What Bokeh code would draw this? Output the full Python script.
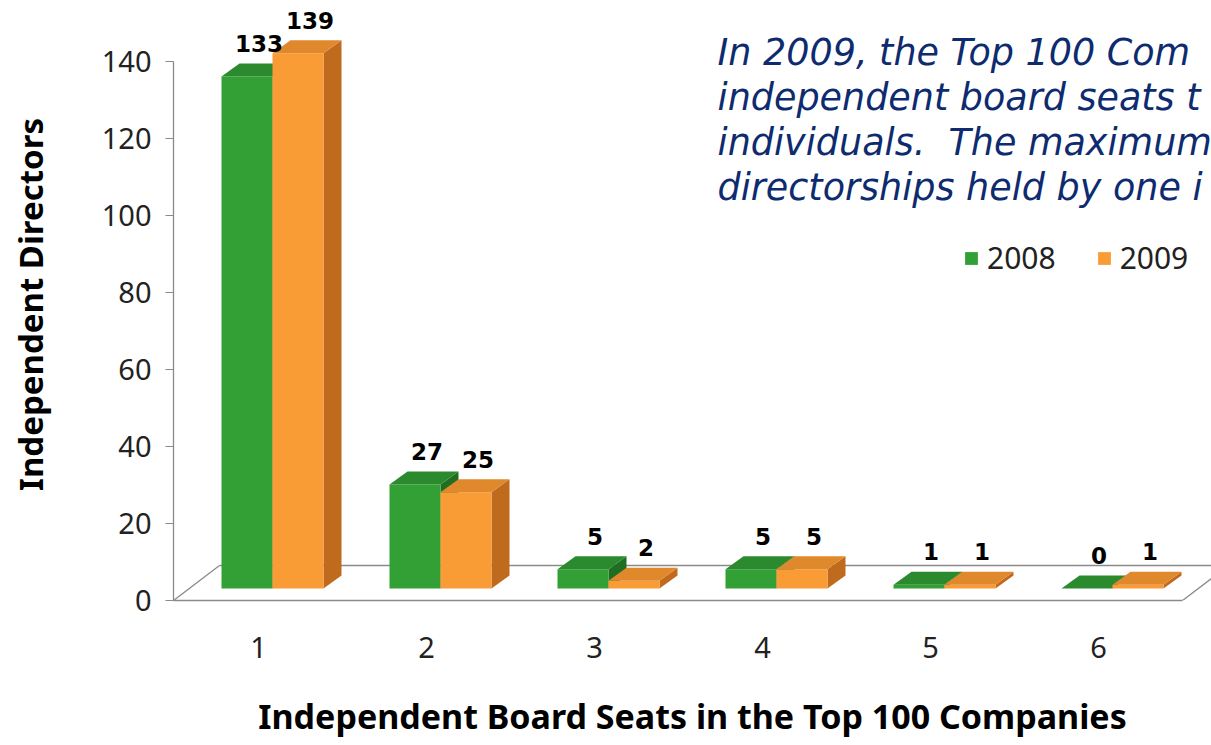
from bokeh.plotting import figure
from bokeh.models import Range1d, FixedTicker, Label, Legend, LegendItem
from bokeh.core.properties import value
from bokeh.embed import file_html
from bokeh.resources import INLINE

# ---- data ----
categories = ["1", "2", "3", "4", "5", "6"]
series_names = ["2008", "2009"]
vals_2008 = [133, 27, 5, 5, 1, 0]
vals_2009 = [139, 25, 2, 5, 1, 1]
y_ticks = [0, 20, 40, 60, 80, 100, 120, 140]
note_lines = [
    "In 2009, the Top 100 Com",
    "independent board seats t",
    "individuals.\u00a0 The maximum",
    "directorships held by one i",
]

# ---- geometry (page pixels -> data) ----
SY = 539 / 140.0      # px per y unit
SX = 168.0            # px per category
def xd(px):
    return 1 + (px - 258) / SX
def yd(py):
    return (600 - py) / SY

W = 51 / SX          # bar width
SHIFT = 14 / SX      # depth shift of bar fronts (x)
BASE = 12 / SY       # depth shift of bar fronts (y)
DDX = 18 / SX        # bar depth x
DDY = 13 / SY        # bar depth y
FDX = 46 / SX        # floor depth x
FDY = 35 / SY        # floor depth y

p = figure(width=1211, height=745, output_backend="svg", toolbar_location=None,
           x_range=Range1d(xd(173), xd(1211)), y_range=Range1d(0, yd(8)),
           min_border_left=173, min_border_right=0, min_border_top=8,
           min_border_bottom=145)
p.outline_line_color = None
p.xgrid.visible = False
p.ygrid.visible = False
p.background_fill_color = "white"
p.border_fill_color = "white"

AX = "#8a8a8a"
# floor
p.line([xd(173), xd(173) + FDX], [0, FDY], line_color=AX, line_width=1.3)
p.line([xd(173) + FDX, xd(1211)], [FDY, FDY], line_color=AX, line_width=1.3)
p.line([xd(1182), xd(1182) + FDX], [0, FDY], line_color=AX, line_width=1.3)

colors = {
    "2008": ("#33a035", "#2b8a2d", "#1f6e22"),
    "2009": ("#fa9c36", "#e0892c", "#c06a1e"),
}
offsets = {"2008": -W, "2009": 0.0}
values = {"2008": vals_2008, "2009": vals_2009}

front_renderers = {}
for name in series_names:
    front, top, side = colors[name]
    vals = values[name]
    xl = [i + 1 + SHIFT + offsets[name] for i in range(len(categories))]
    xr = [x + W for x in xl]
    tops = [BASE + v for v in vals]
    # side faces
    sx, sy = [], []
    for a, t in zip(xr, tops):
        sx.append([a, a + DDX, a + DDX, a])
        sy.append([BASE, BASE + DDY, t + DDY, t])
    p.patches(sx, sy, fill_color=side, line_color=None)
    # front faces
    r = p.quad(left=xl, right=xr, bottom=[BASE] * len(vals), top=tops,
               fill_color=front, line_color=None)
    front_renderers[name] = r
    # top faces
    tx, ty = [], []
    for a, b, t in zip(xl, xr, tops):
        tx.append([a, b, b + DDX, a + DDX])
        ty.append([t, t, t + DDY, t + DDY])
    p.patches(tx, ty, fill_color=top, line_color=None)

# value labels
for name in series_names:
    vals = values[name]
    xs = [i + 1 + SHIFT + offsets[name] + W / 2 for i in range(len(categories))]
    ys = [BASE + v + DDY for v in vals]
    p.text(x=xs, y=ys, text=[str(v) for v in vals], x_offset=12, y_offset=-20,
           text_align="center", text_baseline="middle",
           text_font=value("DejaVu Sans"), text_font_style="bold",
           text_font_size="23px", text_color="black")

# axes
p.yaxis.ticker = FixedTicker(ticks=y_ticks)
p.yaxis.bounds = (0, 140)
p.yaxis.axis_line_color = AX
p.yaxis.axis_line_width = 1.3
p.yaxis.major_tick_line_color = AX
p.yaxis.major_tick_out = 8
p.yaxis.major_tick_in = 0
p.yaxis.minor_tick_line_color = None
p.yaxis.major_label_standoff = 14
p.yaxis.major_label_text_font = "Noto Sans"
p.yaxis.major_label_text_font_size = "29px"
p.yaxis.major_label_text_color = "#222222"
p.yaxis.axis_label = "Independent Directors"
p.yaxis.axis_label_text_font = "Noto Sans"
p.yaxis.axis_label_text_font_style = "bold"
p.yaxis.axis_label_text_font_size = "33px"
p.yaxis.axis_label_text_color = "black"
p.yaxis.axis_label_standoff = 46

p.xaxis.ticker = FixedTicker(ticks=list(range(1, len(categories) + 1)))
p.xaxis.major_label_overrides = {i + 1: c for i, c in enumerate(categories)}
p.xaxis.bounds = (xd(165), xd(1182))
p.xaxis.axis_line_color = AX
p.xaxis.axis_line_width = 1.3
p.xaxis.major_tick_line_color = None
p.xaxis.minor_tick_line_color = None
p.xaxis.major_tick_out = 0
p.xaxis.major_tick_in = 0
p.xaxis.major_label_standoff = 36
p.xaxis.major_label_text_font = "Noto Sans"
p.xaxis.major_label_text_font_size = "29px"
p.xaxis.major_label_text_color = "#222222"
p.xaxis.axis_label = "Independent Board Seats in the Top 100 Companies"
p.xaxis.axis_label_text_font = "Noto Sans"
p.xaxis.axis_label_text_font_style = "bold"
p.xaxis.axis_label_text_font_size = "34px"
p.xaxis.axis_label_text_color = "black"
p.xaxis.axis_label_standoff = 32

# note text
for k, line in enumerate(note_lines):
    p.add_layout(Label(x=xd(717), y=yd(52 + 45 * k), text=line,
                       text_font="DejaVu Sans", text_font_style="italic",
                       text_font_size="36.5px", text_color="#0d2b6e",
                       text_baseline="alphabetic", text_align="left"))

# legend
legend = Legend(items=[LegendItem(label=n, renderers=[front_renderers[n]]) for n in series_names],
                orientation="horizontal", location=(790, 322),
                glyph_width=16, glyph_height=16, label_standoff=8, spacing=40,
                padding=0, margin=0, border_line_color=None,
                background_fill_alpha=0,
                label_text_font="Noto Sans", label_text_font_size="30px",
                label_text_color="#222222")
p.add_layout(legend)

open("out.html", "w").write(file_html(p, INLINE))
